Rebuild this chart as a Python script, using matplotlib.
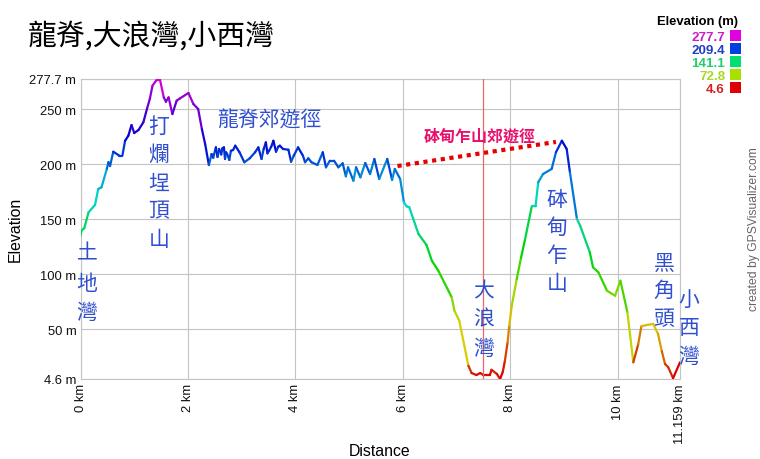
import numpy as np
import matplotlib
matplotlib.use('Agg')
import matplotlib.pyplot as plt
from matplotlib.collections import LineCollection
from matplotlib.colors import hsv_to_rgb
from matplotlib.patches import Rectangle

plt.rcParams['font.family'] = ['Liberation Sans', 'Noto Sans CJK TC']

title = '龍脊,大浪灣,小西灣'

distance = [0.00, 0.02, 0.07, 0.15, 0.27, 0.33, 0.39, 0.49, 0.52, 0.55, 0.61, 0.72, 0.78, 0.83, 0.89,
            0.95, 1.00, 1.08, 1.17, 1.24, 1.29, 1.34, 1.42, 1.48, 1.55, 1.59, 1.64, 1.71, 1.79, 1.85,
            2.01, 2.10, 2.19, 2.26, 2.32, 2.39, 2.44, 2.47, 2.52, 2.55, 2.58, 2.62, 2.64, 2.67, 2.69, 2.71, 2.73, 2.77, 2.80,
            2.84, 2.88, 2.96, 3.05, 3.15, 3.25, 3.31, 3.37, 3.41, 3.45, 3.48, 3.51, 3.55, 3.59, 3.64, 3.68, 3.71, 3.77, 3.87, 3.92,
            3.97, 4.05, 4.14, 4.18, 4.24, 4.30, 4.41, 4.51, 4.57, 4.64, 4.72, 4.80, 4.88, 4.94, 4.98, 5.08,
            5.13, 5.21, 5.30, 5.39, 5.47, 5.56, 5.71, 5.80, 5.85, 5.95, 6.02, 6.07, 6.12, 6.19, 6.29,
            6.44, 6.54, 6.66, 6.91, 6.96, 7.05, 7.22, 7.28, 7.37, 7.44, 7.50, 7.62, 7.65, 7.75, 7.81,
            7.86, 7.90, 7.95, 7.98, 8.03, 8.12, 8.20, 8.27, 8.40, 8.47, 8.52, 8.61, 8.77, 8.85, 8.96, 9.05, 9.11, 9.24, 9.30,
            9.48, 9.54, 9.64, 9.80, 9.95, 10.05, 10.18, 10.29, 10.38, 10.44, 10.54, 10.66, 10.75, 10.82, 10.88,
            10.94, 11.03, 11.159]
elevation = [135, 140, 141.8, 156.4, 163, 177.6, 179, 195.8, 202, 198.5, 211.5, 208, 208, 221.5, 226,
             235.8, 228.5, 231.3, 238.3, 251, 259.5, 271.6, 277, 277, 261, 257, 261, 245.8, 258, 260,
             265, 255, 250.4, 232, 218.5, 199.4, 209.4, 206, 215.5, 206.7, 214, 209, 214.5, 215.5, 204.9, 211, 209.4, 204, 212.4,
             213, 217, 211, 201.9, 205.5, 211, 215.5, 204.9, 214, 220, 210, 212.4, 216, 221.5, 211.5, 216, 217, 214, 213.3, 202.4,
             208, 215.5, 207.9, 201.9, 205.5, 201.9, 199.4, 211, 197.3, 203.3, 203.3, 197.3, 201, 189.1, 197.3, 185.1,
             197.3, 188.2, 201.2, 191.2, 204.9, 186.7, 204.9, 185.8, 195.8, 186.7, 165.5, 161.8, 160.9, 150.9, 136.7,
             126.6, 112.3, 103.2, 79, 66.8, 57.7, 16.7, 10, 8.2, 10, 8.2, 8.2, 13, 9.2, 4.6,
             11, 21.3, 38, 53.1, 72, 95.6, 115, 130.5, 161.8, 161.8, 183.7, 191.2, 195.8, 211, 221.5, 214, 192.8, 150.4, 144.2,
             120, 106.3, 101.7, 85, 80.4, 94.1, 65.3, 19.8, 36, 52.6, 53.8, 54.7, 45.6, 30, 18.3,
             15.3, 5.3, 19.8]

ytick_values = [4.6, 50, 100, 150, 200, 250, 277.7]
ytick_labels = ['4.6 m', '50 m', '100 m', '150 m', '200 m', '250 m', '277.7 m']
xtick_values = [0, 2, 4, 6, 8, 10, 11.159]
xtick_labels = ['0 km', '2 km', '4 km', '6 km', '8 km', '10 km', '11.159 km']

legend_values = ['277.7', '209.4', '141.1', '72.8', '4.6']
legend_boxes = ['#e000e0', '#0040e0', '#00e070', '#a8e000', '#e00000']
legend_text = ['#c81ec8', '#1e40c8', '#20d070', '#a8d820', '#d81e1e']

# extra route drawn by hand on the original
dotted_x = [5.9, 8.85]
dotted_y = [198.5, 220.4]
marker_km = 7.5

# vertical place names: text, centre x px, y px of each character
place_names = [('土地灣', 87, [252, 282, 311]),
               ('打爛埕頂山', 159, [125, 153, 182, 210, 238]),
               ('大浪灣', 484, [290, 318, 347]),
               ('砵甸乍山', 557, [198, 226, 255, 283]),
               ('黑角頭', 664, [262, 289, 318]),
               ('小西灣', 689, [298, 327, 355])]

W, H = 760, 460
BLUE = '#2f4fd0'
CJK = ['Noto Sans CJK TC', 'Liberation Sans']

fig = plt.figure(figsize=(W / 100, H / 100), dpi=100, facecolor='white')
ax = fig.add_axes([80.5 / W, 80 / H, 599.5 / W, 300 / H])
ax.set_xlim(0, 11.159)
ax.set_ylim(4.6, 277.7)


def px_text(x, y, s, **kw):
    return fig.text(x / W, 1 - y / H, s, **kw)


ax.grid(True, color='#c4c4c4', linewidth=0.8)
ax.set_axisbelow(True)
for spine in ax.spines.values():
    spine.set_color('#c4c4c4')
    spine.set_linewidth(0.8)

ax.set_yticks(ytick_values)
ax.set_yticklabels(ytick_labels, fontsize=9.4, color='#111111')
ax.set_xticks(xtick_values)
ax.set_xticklabels(xtick_labels, fontsize=9.4, rotation=90, color='#111111')
ax.tick_params(length=0, pad=3)
ax.set_xlabel('Distance', fontsize=11.4, va='center')
ax.xaxis.set_label_coords((380 - 80.5) / 599.5, -72 / 300)
ax.set_ylabel('Elevation', fontsize=11.4, va='center')
ax.yaxis.set_label_coords((15 - 80.5) / 599.5, (380 - 229) / 300)

# each piece of the track takes its colour from the height where it starts,
# red at the bottom round to magenta at the top
d = np.array(distance)
e = np.array(elevation)
pts = np.column_stack([d, e])
segs = np.stack([pts[:-1], pts[1:]], axis=1)
hue = (e[:-1] - 4.6) / (277.7 - 4.6) * 300 / 360
colors = hsv_to_rgb(np.column_stack([hue, np.full_like(hue, 1.0), np.full_like(hue, 0.84)]))
ax.add_collection(LineCollection(segs, colors=colors, linewidths=1.6, capstyle='round', zorder=3))

ax.axvline(marker_km, color='#e8686a', linewidth=0.9, zorder=4)
ax.plot(dotted_x, dotted_y, color='#e60000', linewidth=3.0, linestyle=(0, (1, 1.1)), zorder=5)

# annotations
for name, x, ys in place_names:
    for ch, y in zip(name, ys):
        px_text(x, y + 1.5, ch, color=BLUE, fontsize=15, family=CJK, ha='center', va='center')
px_text(269.5, 120.5, '龍脊郊遊徑', color=BLUE, fontsize=15, family=CJK, ha='center', va='center')
px_text(479.5, 137, '砵甸乍山郊遊徑', color='#e8106a', fontsize=11.5, family=CJK, weight='bold',
        ha='center', va='center')

px_text(28, 36.5, title, fontsize=20.8, family=CJK, ha='left', va='center', color='black')

# elevation legend
px_text(738, 22, 'Elevation (m)', fontsize=9.4, weight='bold', ha='right', va='center')
for i, val in enumerate(legend_values):
    y = 36.5 + i * 13
    px_text(725, y + 4.5, val, fontsize=9.6, weight='bold', color=legend_text[i], ha='right', va='baseline')
    fig.add_artist(Rectangle((730 / W, 1 - (y + 5.5) / H), 11 / W, 11 / H, transform=fig.transFigure,
                             facecolor=legend_boxes[i], edgecolor='none'))

px_text(754, 229, 'created by GPSVisualizer.com', fontsize=8.7, color='#666666', rotation=90,
        ha='center', va='center')

fig.savefig('out.png', dpi=100)
